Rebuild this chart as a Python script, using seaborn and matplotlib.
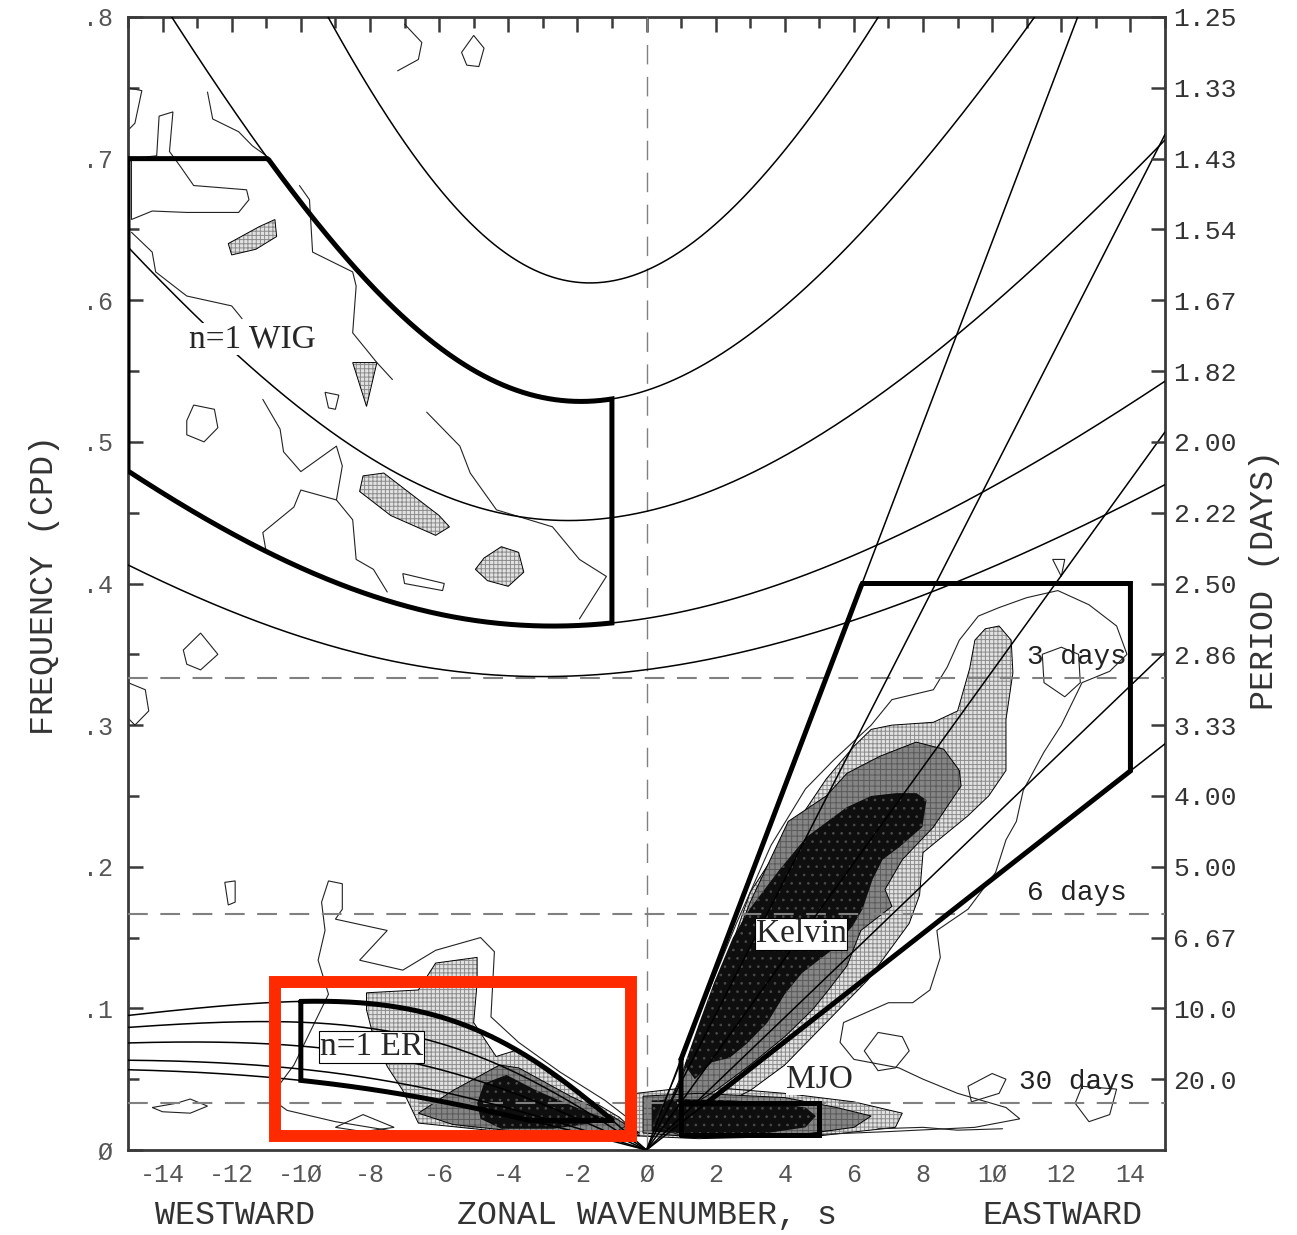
import numpy as np
import pandas as pd
import matplotlib
matplotlib.use("Agg")
import matplotlib.pyplot as plt
from matplotlib.patches import Polygon, Rectangle
import seaborn as sns

# ---------------- data ----------------
equiv_depths = [8, 12, 25, 50, 90]            # m, theoretical dispersion curves
wig_box = dict(s=[-15, -1], h=[12, 50], fmax=0.7)
kelvin_box = dict(s=[1, 14], h=[8, 90], period=[2.5, 30])
er_box = dict(s=[-10, -1], h=[8, 90], period_max=48)
mjo_box = dict(s=[1, 5], period=[30, 96])
period_lines = [3, 6, 30]
period_line_labels = ["3 days", "6 days", "30 days"]

freq_ticks = [0, .1, .2, .3, .4, .5, .6, .7, .8]
freq_labels = ["Ø", ".1", ".2", ".3", ".4", ".5", ".6", ".7", ".8"]
wn_ticks = [-14, -12, -10, -8, -6, -4, -2, 0, 2, 4, 6, 8, 10, 12, 14]
wn_labels = ["-14", "-12", "-1Ø", "-8", "-6", "-4", "-2", "Ø", "2", "4", "6", "8", "1Ø", "12", "14"]
period_tick_freqs = [.05, .1, .15, .2, .25, .3, .35, .4, .45, .5, .55, .6, .65, .7, .75, .8]
period_tick_labels = ["20.0", "10.0", "6.67", "5.00", "4.00", "3.33", "2.86", "2.50",
                      "2.22", "2.00", "1.82", "1.67", "1.54", "1.43", "1.33", "1.25"]

# contour regions of the spectral-power ratio (wavenumber s, frequency cpd)
# level 4 (black), level 3 (gray), level 2 (stippled), level 1 (thin outline)
kelvin_black = [(1.1, .06), (1.5, .088), (1.95, .118), (2.5, .15), (2.98, .17), (3.85, .198), (4.63, .221),
                (5.79, .242), (6.5, .25), (7.23, .252), (7.81, .252), (8.1, .247), (7.98, .228), (7.32, .214),
                (6.83, .205), (6.54, .191), (6.25, .17), (5.96, .158), (5.3, .14), (4.5, .125), (4.0, .11),
                (3.5, .09), (2.9, .075), (2.4, .065), (1.9, .062), (1.4, .05)]
kelvin_gray = [(0.6, .03), (1.0, .05), (1.5, .082), (2.2, .125), (3.0, .175), (4.1, .232), (5.2, .25),
               (5.8, .266), (6.75, .278), (7.8, .288), (8.6, .283), (9.05, .268), (9.1, .257), (8.3, .228),
               (7.4, .205), (6.9, .184), (7.1, .172), (6.2, .155), (5.8, .13), (5.2, .111), (4.8, .099),
               (4.0, .08), (3.0, .06), (2.0, .042), (1.2, .03)]
kelvin_stip = [(0.4, .02), (1.0, .052), (1.6, .092), (2.4, .14), (3.0, .182), (3.85, .214), (4.4, .233),
               (5.2, .262), (6.0, .285), (6.5, .297), (7.1, .30), (8.3, .302), (9.0, .31), (9.35, .34),
               (9.5, .36), (9.8, .368), (10.2, .37), (10.55, .36), (10.6, .337), (10.4, .304), (10.4, .268),
               (9.9, .25), (9.3, .236), (8.6, .222), (8.0, .21), (7.9, .18), (7.6, .16), (7.0, .14),
               (6.4, .12), (5.8, .105), (5.0, .085), (4.0, .06), (3.0, .042), (2.0, .03), (1.0, .02)]
kelvin_outline = [(0.2, .018), (0.8, .05), (1.6, .10), (2.6, .16), (3.6, .215), (4.6, .255), (5.4, .275),
                  (6.5, .30), (7.1, .318), (8.3, .325), (8.7, .341), (9.05, .36), (9.6, .377), (10.2, .383),
                  (11.0, .39), (11.9, .395), (12.8, .385), (13.6, .37), (13.9, .35), (13.4, .338), (12.6, .33),
                  (12.0, .30), (11.5, .281), (10.9, .254), (10.7, .232), (10.4, .219), (10.1, .196), (9.3, .17),
                  (8.4, .155), (8.5, .136), (8.2, .113), (7.7, .104), (7.0, .104), (5.7, .09), (5.6, .076),
                  (6.0, .064), (7.3, .058), (8.0, .05), (9.0, .04), (10.4, .03), (10.8, .022), (9.5, .016),
                  (7.0, .013), (4.0, .010), (1.0, .010)]
mjo_black = [(0.15, .013), (0.15, .035), (1.0, .036), (2.5, .035), (3.8, .033), (4.6, .03), (4.9, .024),
             (4.6, .016), (3.5, .012), (1.5, .011)]
mjo_gray = [(-0.1, .012), (-0.1, .038), (1.5, .04), (4.0, .037), (5.5, .03), (6.5, .024), (6.0, .016),
            (4.5, .011), (1.5, .009)]
mjo_stip = [(-0.3, .01), (-0.3, .04), (1.5, .045), (4.0, .04), (6.0, .034), (7.4, .026), (7.2, .016),
            (5.0, .01), (1.5, .008)]
er_black = [(-4.9, .033), (-4.7, .047), (-4.05, .053), (-3.18, .042), (-1.74, .027), (-1.0, .021),
            (-2.7, .015), (-4.2, .015), (-4.8, .022)]
er_gray = [(-6.6, .026), (-5.6, .042), (-4.25, .06), (-3.7, .058), (-2.2, .038), (-1.0, .024), (-0.2, .012),
           (-1.3, .013), (-3.7, .013), (-5.6, .018)]
er_stip = [(-8.1, .111), (-6.6, .113), (-6.1, .132), (-4.9, .136), (-4.9, .118), (-5.0, .09), (-4.35, .066),
           (-3.7, .071), (-2.7, .052), (-1.74, .037), (-0.78, .023), (-0.2, .01), (-1.0, .012), (-4.6, .014),
           (-6.6, .019), (-7.05, .042), (-7.5, .059), (-7.9, .08), (-8.1, .099)]
er_outline = [(-10.9, .037), (-10.2, .06), (-9.8, .08), (-9.2, .11), (-9.5, .134), (-9.3, .155), (-9.4, .175),
              (-9.2, .19), (-8.8, .188), (-8.8, .17), (-9.0, .163), (-7.5, .155), (-8.3, .134), (-7.05, .127),
              (-6.1, .141), (-4.8, .15), (-4.4, .14), (-4.5, .094), (-3.7, .076), (-2.5, .055), (-1.2, .035),
              (-0.4, .02), (-1.0, .011), (-4.0, .010), (-7.0, .012), (-9.0, .02), (-10.4, .028)]
wig_stip = [
    [(-12.1, .640), (-11.2, .652), (-10.75, .657), (-10.7, .645), (-11.3, .636), (-12.0, .632)],
    [(-8.5, .556), (-7.8, .556), (-8.1, .525)],
    [(-8.2, .476), (-7.6, .478), (-6.0, .448), (-5.7, .44), (-6.1, .434), (-7.4, .448), (-8.3, .465)],
    [(-4.7, .418), (-4.2, .426), (-3.7, .422), (-3.55, .408), (-4.0, .398), (-4.6, .402), (-4.95, .41)],
]
closed_contours = [
    [(-14.17, .702), (-14.1, .730), (-13.7, .733), (-13.8, .705), (-13.5, .695), (-13.1, .681), (-11.57, .678),
     (-11.5, .671), (-11.8, .662), (-13.3, .662), (-14.3, .663), (-14.9, .657), (-14.9, .70)],
    [(-13.3, .515), (-13.1, .526), (-12.5, .523), (-12.4, .51), (-12.8, .5), (-13.3, .505)],
    [(-13.4, .353), (-12.9, .365), (-12.4, .35), (-12.9, .339), (-13.3, .343)],
    [(-9.3, .535), (-8.9, .533), (-9.0, .523), (-9.2, .524)],
    [(-5.35, .775), (-5.0, .787), (-4.7, .778), (-4.85, .765), (-5.2, .766)],
    [(-15, .33), (-14.5, .325), (-14.4, .31), (-14.8, .30), (-15, .305)],
    [(-7.05, .407), (-5.85, .40), (-5.9, .395), (-7.0, .40)],
    [(-14.3, .03), (-13.6, .033), (-13.2, .036), (-12.7, .031), (-13.2, .026), (-14.0, .027)],
    [(-9.0, .016), (-8.2, .025), (-7.3, .016), (-8.2, .013)],
    [(-12.2, .189), (-11.9, .19), (-11.9, .175), (-12.1, .173)],
    [(11.45, .35), (12.0, .355), (12.5, .35), (12.55, .33), (12.1, .32), (11.5, .33)],
    [(11.75, .417), (12.1, .417), (12.0, .405)],
    [(6.3, .07), (6.7, .083), (7.4, .08), (7.6, .07), (7.2, .058), (6.7, .056)],
    [(9.3, .045), (10.0, .054), (10.4, .05), (10.2, .04), (9.4, .034)],
    [(12.6, .045), (13.6, .043), (13.4, .025), (12.8, .02), (12.4, .033)],
]
open_contours = [
    [(-12.7, .747), (-12.55, .728), (-11.8, .719), (-11.4, .709), (-11.0, .702)],
    [(-14.9, .648), (-14.3, .634), (-14.2, .62), (-13.3, .603), (-12.0, .596), (-11.7, .587)],
    [(-10.04, .681), (-9.75, .671), (-9.66, .634), (-8.5, .620), (-8.4, .61), (-8.5, .577), (-7.8, .556),
     (-7.35, .544)],
    [(-11.1, .53), (-10.6, .509), (-10.5, .493), (-10.0, .479), (-8.97, .497), (-8.8, .483), (-8.97, .459),
     (-8.5, .445), (-8.4, .417), (-7.9, .41), (-7.5, .394)],
    [(-8.97, .459), (-10.0, .466), (-10.2, .454), (-11.1, .436), (-11.0, .422)],
    [(-6.36, .521), (-5.4, .497), (-5.1, .478), (-4.34, .452), (-2.72, .44), (-1.94, .417), (-1.16, .405),
     (-1.94, .375)],
    [(-15, .75), (-14.6, .748), (-14.8, .725), (-15, .72)],
    [(-7.0, .795), (-6.5, .782), (-6.6, .77), (-7.2, .762)],
    [(6.7, .015), (8.0, .016), (9.0, .014), (10.3, .015)],
]
red_box = [-10.75, 0.0099, -0.46, 0.1187]   # s0, f0, s1, f1

# ---------------- theory ----------------
g, a, om = 9.81, 6.371e6, 7.292e-5
beta = 2 * om / a
to_cpd = 86400 / (2 * np.pi)


def n1_roots(s, h):
    c = np.sqrt(g * h)
    kh = (s / a) * np.sqrt(c / beta)
    r = np.sort(np.roots([1, 0, -(kh ** 2 + 3), -kh]).real)
    return r * np.sqrt(beta * c) * to_cpd


def ig(s, h):
    return np.array([n1_roots(x, h)[-1] for x in np.atleast_1d(s)])


def er(s, h):
    return np.array([n1_roots(x, h)[1] for x in np.atleast_1d(s)])


def kelvin(s, h):
    return np.sqrt(g * h) * np.asarray(s) / a * to_cpd


S = np.linspace(-15, 15, 901)
frames = []
for h in equiv_depths:
    frames.append(pd.DataFrame(dict(curve=f"IG{h}", s=S, f=ig(S, h))))
    sw = S[S <= 0]
    frames.append(pd.DataFrame(dict(curve=f"ER{h}", s=sw, f=er(sw, h))))
    se = S[S >= 0]
    frames.append(pd.DataFrame(dict(curve=f"K{h}", s=se, f=kelvin(se, h))))
curves = pd.concat(frames, ignore_index=True)

# ---------------- figure ----------------
sns.set_theme(style="white")
plt.rcParams["font.family"] = ["Liberation Mono", "DejaVu Sans"]
plt.rcParams["hatch.linewidth"] = 0.7

W, H, DPI = 1297, 1235, 100
fig = plt.figure(figsize=(W / DPI, H / DPI), dpi=DPI)
ax = fig.add_axes([128 / W, 1 - 1150 / H, (1165 - 128) / W, (1150 - 17) / H])
ax.set_xlim(-15, 15)
ax.set_ylim(0, 0.8)


def poly(pts, fc, hatch=None, hc=None, z=1, outline=True):
    ax.add_patch(Polygon(pts, closed=True, facecolor=fc, edgecolor=hc if hc else fc,
                         hatch=hatch, lw=0, zorder=z))
    if outline:
        ax.add_patch(Polygon(pts, closed=True, fill=False, edgecolor="black", lw=0.7, zorder=z + 0.1))


# contour fills
for pts in [kelvin_stip, mjo_stip, er_stip] + wig_stip:
    poly(pts, "#e2e2e2", hatch="++++", hc="#8c8c8c", z=1)
for pts in [kelvin_gray, mjo_gray, er_gray]:
    poly(pts, "#858585", hatch="+++", hc="#5a5a5a", z=1.3)
for pts in [kelvin_black, mjo_black, er_black]:
    poly(pts, "#0e0e0e", hatch="..", hc="#4a4a4a", z=1.6, outline=False)
for pts in [kelvin_outline, er_outline] + closed_contours:
    ax.add_patch(Polygon(pts, closed=True, fill=False, edgecolor="#222", lw=0.8, zorder=2))
for pts in open_contours:
    p = np.array(pts)
    ax.plot(p[:, 0], p[:, 1], color="#222", lw=0.8, zorder=2)

# theoretical dispersion curves
sns.lineplot(data=curves, x="s", y="f", units="curve", estimator=None, sort=False,
             color="black", linewidth=1.1, legend=False, ax=ax, zorder=4)

# dashed reference lines
for p in period_lines:
    ax.axhline(1 / p, color="#808080", lw=1.5, dashes=(9.5, 6), zorder=3.5)
ax.axvline(0, color="#808080", lw=1.0, dashes=(14, 9), zorder=3.5)

# filter boxes
sb = np.linspace(*wig_box["s"], 300)
up = np.minimum(ig(sb, wig_box["h"][1]), wig_box["fmax"])
lo = ig(sb, wig_box["h"][0])
ax.plot(np.r_[sb, sb[::-1], sb[:1]], np.r_[up, lo[::-1], up[:1]], color="black", lw=3.6, zorder=5,
        solid_joinstyle="miter")

sb = np.linspace(*kelvin_box["s"], 400)
up = np.minimum(kelvin(sb, kelvin_box["h"][1]), 1 / kelvin_box["period"][0])
lo = np.maximum(kelvin(sb, kelvin_box["h"][0]), 1 / kelvin_box["period"][1])
ax.plot(np.r_[sb, sb[::-1], sb[:1]], np.r_[up, lo[::-1], up[:1]], color="black", lw=3.6, zorder=5,
        solid_joinstyle="miter")

sb = np.linspace(*er_box["s"], 300)
up = er(sb, er_box["h"][1])
lo = np.maximum(er(sb, er_box["h"][0]), 1 / er_box["period_max"])
ax.plot(np.r_[sb, sb[::-1], sb[:1]], np.r_[up, lo[::-1], up[:1]], color="black", lw=3.6, zorder=5,
        solid_joinstyle="miter")

ms = mjo_box["s"]
mf = [1 / mjo_box["period"][1], 1 / mjo_box["period"][0]]
ax.plot([ms[0], ms[1], ms[1], ms[0], ms[0]], [mf[0], mf[0], mf[1], mf[1], mf[0]], color="black", lw=3.6,
        zorder=5, solid_joinstyle="miter")

# wave labels
serif = ["Liberation Serif", "DejaVu Serif"]
ax.text(-11.4, 0.5725, "n=1 WIG", family=serif, fontsize=24, ha="center", va="center", zorder=6,
        bbox=dict(fc="white", ec="none", pad=0.5))
ax.text(4.48, 0.1527, "Kelvin", family=serif, fontsize=24, ha="center", va="center", zorder=6,
        bbox=dict(fc="white", ec="black", lw=0.8, pad=0.5))
ax.text(-7.95, 0.0728, "n=1 ER", family=serif, fontsize=24, ha="center", va="center", zorder=6,
        bbox=dict(fc="white", ec="black", lw=0.8, pad=0.5))
ax.text(5.0, 0.0495, "MJO", family=serif, fontsize=24, ha="center", va="center", zorder=6,
        bbox=dict(fc="white", ec="none", pad=0.3))
for p, lab in zip(period_lines, period_line_labels):
    ax.text(12.45, 1 / p + 0.0147, lab, fontsize=20, ha="center", va="center", color="#222", zorder=6)

# red highlight rectangle
ax.add_patch(Rectangle((red_box[0], red_box[1]), red_box[2] - red_box[0], red_box[3] - red_box[1],
                       fill=False, edgecolor="#ff2a00", lw=8.6, joinstyle="miter", zorder=7))

# axes, ticks
for sp in ax.spines.values():
    sp.set_color("#3a3a3a")
    sp.set_linewidth(2.0)
    sp.set_visible(True)
ax.set_xticks(wn_ticks)
ax.set_xticklabels(wn_labels)
ax.set_xticks(np.arange(-15, 16, 1), minor=True)
ax.set_yticks(freq_ticks)
ax.set_yticklabels(freq_labels)
ax.set_yticks(np.arange(0.05, 0.8, 0.1), minor=True)
ax.tick_params(axis="both", which="major", direction="in", length=11, width=1.8, color="#3a3a3a",
               top=True, right=False, labelsize=18, labelcolor="#555")
ax.tick_params(axis="both", which="minor", direction="in", length=8, width=1.8, color="#3a3a3a",
               top=True, right=False)
ax.tick_params(axis="x", which="major", pad=9)
ax.tick_params(axis="y", which="major", pad=11)
ax.set_xlabel("")
ax.set_ylabel("")

ax2 = ax.twinx()
ax2.set_ylim(0, 0.8)
ax2.set_yticks(period_tick_freqs)
ax2.set_yticklabels(period_tick_labels)
ax2.tick_params(axis="y", direction="in", length=10, width=1.8, color="#3a3a3a", labelsize=19,
                labelcolor="#333", pad=6)
for sp in ax2.spines.values():
    sp.set_visible(False)
ax2.grid(False)
ax.grid(False)

fig.text(45 / W, 1 - 585 / H, "FREQUENCY (CPD)", rotation=90, ha="center", va="center", fontsize=24,
         color="#333")
fig.text(1265 / W, 1 - 580 / H, "PERIOD (DAYS)", rotation=90, ha="center", va="center", fontsize=24,
         color="#333")
fig.text(235 / W, 1 - 1215 / H, "WESTWARD", ha="center", va="center", fontsize=24, color="#333")
fig.text(647 / W, 1 - 1215 / H, "ZONAL WAVENUMBER, s", ha="center", va="center", fontsize=24, color="#333")
fig.text(1062 / W, 1 - 1215 / H, "EASTWARD", ha="center", va="center", fontsize=24, color="#333")

fig.savefig("out.png", dpi=DPI, facecolor="white")
